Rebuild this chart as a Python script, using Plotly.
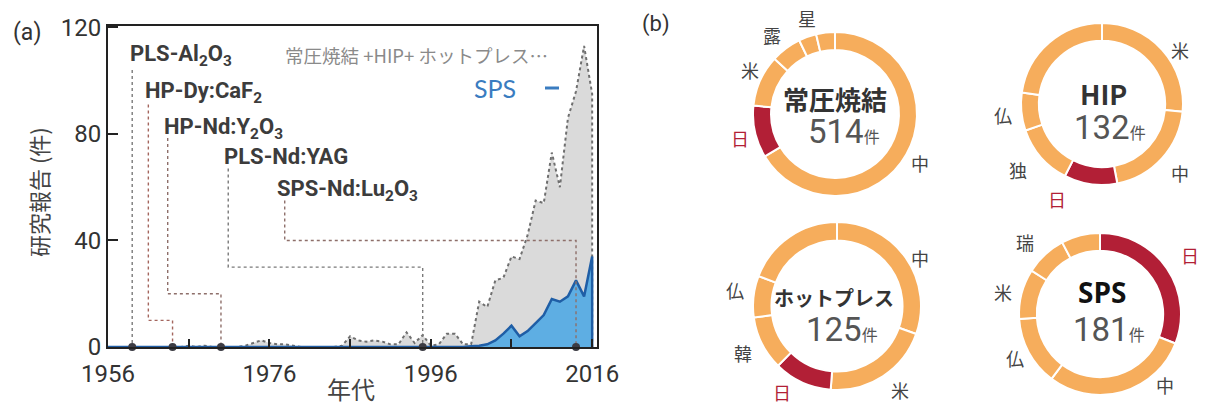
import plotly.graph_objects as go

W, H = 1205, 405

# ---------------- (a) yearly number of reports ----------------
years = list(range(1956, 2017))
total_reports = [
    0, 0, 0, 0, 0, 0, 0, 0, 0, 0,          # 1956-1965
    0.5, 0, 0.5, 0, 0, 0, 0, 0.5, 1.5, 2.5,  # 1966-1975
    1.5, 1, 1, 0.5, 0, 0, 0, 0, 0, 0.5,      # 1976-1985
    4, 2.5, 2, 2.5, 2, 1, 1, 5.5, 1.5, 4.5,  # 1986-1995
    0.5, 1, 5, 5, 1, 1, 17, 15, 25, 26,      # 1996-2005
    34, 33, 42, 55, 54, 73, 60, 86, 96, 113, # 2006-2015
    95,                                      # 2016
]
sps_reports = [0] * 44 + [
    0, 0.3, 0.5, 1, 2.5, 5, 8, 4, 6, 9,      # 2000-2009
    12, 18, 17, 19, 25, 19, 34,              # 2010-2016
]

milestone_labels = [
    "PLS-Al<sub>2</sub>O<sub>3</sub>",
    "HP-Dy:CaF<sub>2</sub>",
    "HP-Nd:Y<sub>2</sub>O<sub>3</sub>",
    "PLS-Nd:YAG",
    "SPS-Nd:Lu<sub>2</sub>O<sub>3</sub>",
]
milestone_years = [1959, 1964, 1970, 1995, 2014]
label_years = [1958.5, 1960.3, 1962.7, 1970.1, 1976.7]
label_levels = [109.5, 95.5, 82, 71.5, 58.8]
leader_years = [1959, 1961, 1963.4, 1970.9, 1977.9]
leader_tops = [104, 91, 78.5, 67, 55]
elbow_levels = [0, 10, 20, 30, 40]
leader_colors = ["#7a7a7a", "#a4665e", "#8e6f6a", "#7a7a7a", "#8e6f6a"]

# ---------------- (b) reports by country ----------------
donut_titles = ["常圧焼結", "HIP", "ホットプレス", "SPS"]
donut_totals = [514, 132, 125, 181]
donut_countries = [
    ["中", "日", "米", "露", "星", "他"],
    ["米", "中", "日", "独", "仏", "他"],
    ["中", "米", "日", "韓", "仏", "他"],
    ["日", "中", "仏", "米", "瑞", "他"],
]
donut_counts = [
    [341, 53, 52, 31, 18, 19],
    [35, 27, 14, 16, 10, 30],
    [38, 26, 14, 13, 10, 24],
    [56, 53, 25, 18, 15, 14],
]

# layout (pixels) for the donuts and their texts
donut_geom = [(835, 114, 82), (1102, 104, 81), (837, 306, 84), (1100, 314, 81)]
title_pos = [(835, 98, 26), (1103, 93, 27), (834, 297, 20), (1102, 292, 28)]
count_pos = [(844, 131), (1110, 128), (842, 329), (1109, 329)]
country_label_pos = [
    [(920, 163), (740, 138), (750, 70), (772, 35), (807, 18)],
    [(1180, 50), (1180, 173), (1057, 199), (1018, 170), (1003, 115)],
    [(920, 258), (900, 390), (782, 392), (743, 353), (735, 290)],
    [(1190, 255), (1165, 385), (1015, 358), (1003, 292), (1025, 242)],
]

ORANGE = "#f6ad5c"
RED = "#b21f36"
JP = "Noto Sans CJK JP"
LAT = "Roboto, Noto Sans CJK JP"


def px(x):
    return x / W


def py(y):
    return 1 - y / H


fig = go.Figure()

# total (dashed, grey fill)
fig.add_trace(go.Scatter(
    x=years + [years[-1]], y=total_reports + [0],
    mode="lines", fill="tozeroy", fillcolor="#dadada",
    line=dict(color="#6f6f6f", width=2, dash="dot"),
    hoverinfo="skip", showlegend=False,
))
# SPS (solid, blue fill)
fig.add_trace(go.Scatter(
    x=years + [years[-1]], y=sps_reports + [0],
    mode="lines", fill="tozeroy", fillcolor="#5eaee3",
    line=dict(color="#1f5ea6", width=2.5),
    hoverinfo="skip", showlegend=False,
))

# milestone leader lines
for ly, top, el, my, col in zip(leader_years, leader_tops, elbow_levels,
                                milestone_years, leader_colors):
    fig.add_trace(go.Scatter(
        x=[ly, ly, my, my], y=[top, el, el, 0],
        mode="lines", line=dict(color=col, width=1.4, dash="dot"),
        hoverinfo="skip", showlegend=False, cliponaxis=False,
    ))
fig.add_trace(go.Scatter(
    x=milestone_years, y=[0] * len(milestone_years), mode="markers",
    marker=dict(color="#3c3c44", size=8), cliponaxis=False,
    hoverinfo="skip", showlegend=False,
))

for lab, lx, lv in zip(milestone_labels, label_years, label_levels):
    fig.add_annotation(
        x=lx, y=lv, xref="x", yref="y", text=f"<b>{lab}</b>",
        showarrow=False, xanchor="left", yanchor="middle",
        font=dict(family=LAT, size=22, color="#3c3c3c"),
    )

annotations = [
    dict(x=px(283), y=py(55), text="常圧焼結 +HIP+ ホットプレス…",
         xanchor="left", font=dict(family=JP, size=18.5, color="#8a8a8a")),
    dict(x=px(472), y=py(88), text="SPS", xanchor="left",
         font=dict(family="Lato", size=25, color="#3a7cc0")),
    dict(x=px(38), y=py(192), text="研究報告 (件)", textangle=-90,
         font=dict(family=JP, size=22, color="#444444")),
    dict(x=px(351), y=py(388), text="年代",
         font=dict(family=JP, size=24, color="#444444")),
    dict(x=px(27), y=py(32), text="(a)",
         font=dict(family=LAT, size=23, color="#333333")),
    dict(x=px(656), y=py(24), text="(b)",
         font=dict(family=LAT, size=22, color="#333333")),
]

# donuts
for i in range(4):
    cx, cy, r = donut_geom[i]
    countries = donut_countries[i]
    colors = [RED if c == "日" else ORANGE for c in countries]
    fig.add_trace(go.Pie(
        labels=countries, values=donut_counts[i], hole=0.78,
        sort=False, direction="clockwise", rotation=0,
        marker=dict(colors=colors, line=dict(color="white", width=2)),
        textinfo="none", hoverinfo="skip", showlegend=False,
        domain=dict(x=[px(cx - r), px(cx + r)], y=[py(cy + r), py(cy - r)]),
    ))
    tx, ty, ts = title_pos[i]
    annotations.append(dict(
        x=px(tx), y=py(ty), text=f"<b>{donut_titles[i]}</b>",
        font=dict(family=JP if i != 3 else "Open Sans", size=ts,
                  color="#111111" if i == 3 else "#333333")))
    nx, ny = count_pos[i]
    annotations.append(dict(
        x=px(nx), y=py(ny),
        text=f"{donut_totals[i]}<span style='font-size:16px'>件</span>",
        font=dict(family=LAT, size=33, color="#555555")))
    for c, (lx, lyy) in zip(countries, country_label_pos[i]):
        annotations.append(dict(
            x=px(lx), y=py(lyy), text=c,
            font=dict(family=JP, size=18,
                      color=RED if c == "日" else "#444444")))

for a in annotations:
    a.setdefault("xref", "paper")
    a.setdefault("yref", "paper")
    a.setdefault("showarrow", False)
    a.setdefault("xanchor", "center")
    a.setdefault("yanchor", "middle")
    fig.add_annotation(**a)

# legend line for SPS
fig.add_shape(type="line", xref="paper", yref="paper",
              x0=px(545), x1=px(559), y0=py(88), y1=py(88),
              line=dict(color="#3a7cc0", width=3))

fig.update_layout(
    template="none",
    width=W, height=H, margin=dict(l=0, r=0, t=0, b=0, autoexpand=False),
    paper_bgcolor="white", plot_bgcolor="white",
    xaxis=dict(
        domain=[px(108), px(597)], range=[1956, 2016.6], autorange=False,
        automargin=False, ticklabelstandoff=4,
        tickvals=[1956, 1976, 1996, 2016], ticks="inside", ticklen=8,
        tickwidth=2, tickcolor="#222222",
        minor=dict(tickvals=[1966, 1986, 2006], ticks="inside", ticklen=8,
                   tickwidth=2, tickcolor="#222222"),
        showline=True, linecolor="#222222", linewidth=2, mirror=True,
        showgrid=False, zeroline=False,
        tickfont=dict(family=LAT, size=24, color="#333333"),
    ),
    yaxis=dict(
        domain=[py(347), py(26)], range=[0, 120.5], autorange=False,
        automargin=False,
        tickvals=[0, 40, 80, 120], ticks="inside", ticklen=10,
        tickwidth=2, tickcolor="#222222",
        showline=True, linecolor="#222222", linewidth=2, mirror=True,
        showgrid=False, zeroline=False,
        tickfont=dict(family=LAT, size=24, color="#333333"),
    ),
)

fig.write_html("out.html")
